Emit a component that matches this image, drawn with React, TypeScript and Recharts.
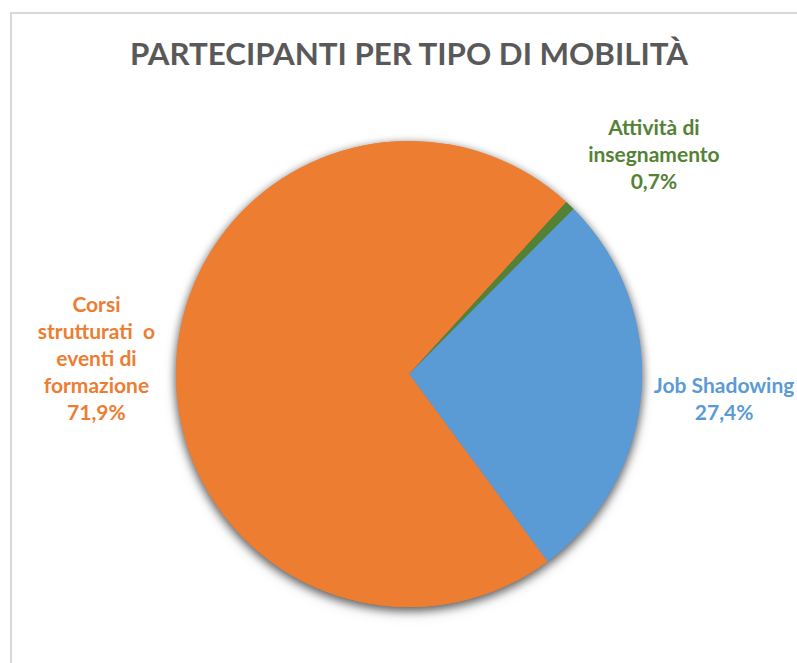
import { PieChart, Pie, Cell } from "recharts"

const categories = ["Attività di insegnamento", "Job Shadowing", "Corsi strutturati o eventi di formazione"]
const values = [0.7, 27.4, 71.9]
const labelLines = [["Attività di", "insegnamento"], ["Job Shadowing"], ["Corsi", "strutturati  o", "eventi di", "formazione"]]
const colors = ["#548235", "#5B9BD5", "#ED7D31"]

const data = categories.map((name, i) => ({ name, value: values[i], lines: labelLines[i] }))

// small hand nudges so labels sit where Excel put them
const labelNudge = [
  { dx: 24, dy: 11 },
  { dx: -4, dy: 0 },
  { dx: 7, dy: 0 },
]

const RAD = Math.PI / 180
const FONT = "Lato, 'Open Sans', sans-serif"

function fmtPct(v: number) {
  return v.toFixed(1).replace(".", ",") + "%"
}

function renderLabel(props: any) {
  const { cx, cy, midAngle, outerRadius, index } = props
  const entry = data[index]
  const r = outerRadius + 87
  const x = cx + r * Math.cos(-midAngle * RAD) + labelNudge[index].dx
  const y = cy + r * Math.sin(-midAngle * RAD) + labelNudge[index].dy
  const lines = [...entry.lines, fmtPct(entry.value)]
  const lh = 27
  return (
    <text
      key={`lbl-${index}`}
      x={x}
      y={y}
      textAnchor="middle"
      fill={colors[index]}
      fontFamily={FONT}
      fontWeight={700}
      fontSize={21}
    >
      {lines.map((ln, i) => (
        <tspan key={i} x={x} y={y + (i - (lines.length - 1) / 2) * lh} dominantBaseline="central" style={{ whiteSpace: "pre" }}>
          {ln}
        </tspan>
      ))}
    </text>
  )
}

export default function App() {
  return (
    <div style={{ position: "absolute", left: 0, top: 0, width: 797, height: 663, background: "#fff", overflow: "hidden" }}>
      <style>{`.pie-shadow { filter: drop-shadow(0px 3px 5px rgba(0,0,0,0.4)); }`}</style>
      <div
        style={{
          position: "absolute",
          left: 10,
          top: 12,
          width: 900,
          height: 800,
          borderLeft: "2px solid #D9D9D9",
          borderTop: "2px solid #D9D9D9",
          boxSizing: "border-box",
        }}
      />
      <PieChart
        width={797}
        height={663}
        margin={{ top: 0, right: 0, bottom: 0, left: 0 }}
        style={{ position: "absolute", left: 0, top: 0 }}
      >
        <text
          x={409}
          y={53}
          textAnchor="middle"
          dominantBaseline="central"
          fill="#595959"
          fontFamily={FONT}
          fontWeight={700}
          fontSize={31}
          textLength={558}
          lengthAdjust="spacingAndGlyphs"
        >
          PARTECIPANTI PER TIPO DI MOBILITÀ
        </text>
        <Pie
          className="pie-shadow"
          data={data}
          dataKey="value"
          nameKey="name"
          cx={409}
          cy={374}
          outerRadius={233}
          startAngle={47.6}
          endAngle={47.6 - 360}
          stroke="none"
          label={false}
          labelLine={false}
          isAnimationActive={false}
        >
          {data.map((d, i) => (
            <Cell key={d.name} fill={colors[i]} />
          ))}
        </Pie>
        <Pie
          data={data}
          dataKey="value"
          nameKey="name"
          cx={409}
          cy={374}
          outerRadius={233}
          startAngle={47.6}
          endAngle={47.6 - 360}
          stroke="none"
          label={renderLabel}
          labelLine={false}
          isAnimationActive={false}
        >
          {data.map((d, i) => (
            <Cell key={d.name} fill={colors[i]} />
          ))}
        </Pie>
      </PieChart>
    </div>
  )
}
